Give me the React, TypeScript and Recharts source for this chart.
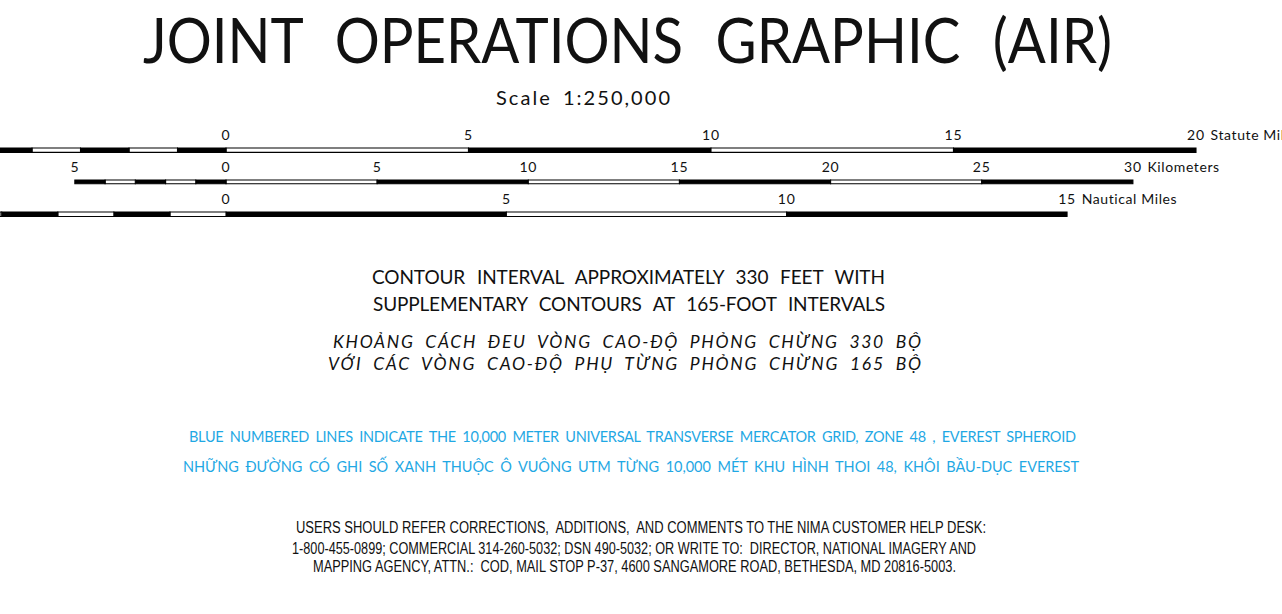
import React from 'react';
import { BarChart, Bar, XAxis, YAxis } from 'recharts';

// scale bar stops and labels, each in its own unit
const STATUTE_TICKS = [0, 5, 10, 15, 20];
const STATUTE_STOPS = [-5, -4, -3, -2, -1, 0, 5, 10, 15, 20];
const KM_TICKS = [-5, 0, 5, 10, 15, 20, 25, 30];
const KM_STOPS = [-5, -4, -3, -2, -1, 0, 5, 10, 15, 20, 25, 30];
const NAUTICAL_TICKS = [0, 5, 10, 15];
const NAUTICAL_STOPS = [-5, -4, -3, -2, -1, 0, 5, 10, 15];
const UNIT_NAMES = ['Statute Miles', 'Kilometers', 'Nautical Miles'];

const TITLE = 'JOINT OPERATIONS GRAPHIC (AIR)';
const SCALE_TEXT = 'Scale 1:250,000';
const CONTOUR_LINES = [
  'CONTOUR INTERVAL APPROXIMATELY 330 FEET WITH',
  'SUPPLEMENTARY CONTOURS AT 165-FOOT INTERVALS',
];
const CONTOUR_LINES_VI = [
  'KHOẢNG CÁCH ĐEU VÒNG CAO-ĐỘ PHỎNG CHỪNG 330 BỘ',
  'VỚI CÁC VÒNG CAO-ĐỘ PHỤ TỪNG PHỎNG CHỪNG 165 BỘ',
];
const GRID_LINES = [
  'BLUE NUMBERED LINES INDICATE THE 10,000 METER UNIVERSAL TRANSVERSE MERCATOR GRID, ZONE 48 , EVEREST SPHEROID',
  'NHỮNG ĐƯỜNG CÓ GHI SỐ XANH THUỘC Ô VUÔNG UTM TỪNG 10,000 MÉT KHU HÌNH THOI 48, KHÔI BẦU-DỤC EVEREST',
];
const HELP_LINES = [
  'USERS SHOULD REFER CORRECTIONS,  ADDITIONS,  AND COMMENTS TO THE NIMA CUSTOMER HELP DESK:',
  '1-800-455-0899; COMMERCIAL 314-260-5032; DSN 490-5032; OR WRITE TO:  DIRECTOR, NATIONAL IMAGERY AND',
  'MAPPING AGENCY, ATTN.:  COD, MAIL STOP P-37, 4600 SANGAMORE ROAD, BETHESDA, MD 20816-5003.',
];

const W = 1282;
const H = 614;
const ZERO_X = 226;
const AXIS_H = 24;
const PLOT_H = 8;
const GEO = 'Lato, "DejaVu Sans", sans-serif';
const NARROW = '"Liberation Sans Narrow", "Liberation Sans", Arial, sans-serif';
const INK = '#111';
const BLUE = '#1fa8e4';

const ROWS = [
  { ticks: STATUTE_TICKS, stops: STATUTE_STOPS, unit: UNIT_NAMES[0], pxPerUnit: 48.5, centerY: 149.6, thick: 5.5, zeroRightBlack: false },
  { ticks: KM_TICKS, stops: KM_STOPS, unit: UNIT_NAMES[1], pxPerUnit: 30.23, centerY: 181.7, thick: 4.8, zeroRightBlack: false },
  { ticks: NAUTICAL_TICKS, stops: NAUTICAL_STOPS, unit: UNIT_NAMES[2], pxPerUnit: 56.07, centerY: 213.8, thick: 5.6, zeroRightBlack: true },
];

function ScaleTick(props: any) {
  const { x, y, payload, last, unit } = props;
  const v = payload.value;
  const label = String(Math.abs(v));
  return (
    <g>
      <text x={x} y={y + 1} textAnchor="middle" fontFamily={GEO} fontSize={14} letterSpacing={0.8} fill={INK}>
        {label}
      </text>
      {v === last && (
        <text x={x + label.length * 4.8 + 5} y={y + 1} textAnchor="start" fontFamily={GEO} fontSize={14} letterSpacing={0.6} fill={INK}>
          {unit}
        </text>
      )}
    </g>
  );
}

function ScaleRow({ ticks, stops, unit, pxPerUnit, centerY, thick, zeroRightBlack }: any) {
  const segments = stops.slice(0, -1).map((a: number, i: number) => ({ key: `s${i}`, a, b: stops[i + 1] }));
  const right = segments.filter((s: any) => s.a >= 0).sort((p: any, q: any) => p.a - q.a);
  const left = segments.filter((s: any) => s.b <= 0).sort((p: any, q: any) => q.b - p.b);
  const row: Record<string, any> = { name: unit };
  right.forEach((s: any) => (row[s.key] = s.b - s.a));
  left.forEach((s: any) => (row[s.key] = s.a - s.b));
  // segments alternate black / white outward from the zero mark
  const series = [
    ...right.map((s: any, j: number) => ({ key: s.key, black: (j % 2 === 0) === zeroRightBlack })),
    ...left.map((s: any, j: number) => ({ key: s.key, black: (j % 2 === 0) !== zeroRightBlack })),
  ];
  const domain = [-ZERO_X / pxPerUnit, (W - ZERO_X) / pxPerUnit];
  const last = ticks[ticks.length - 1];
  const stroke = 1.1;

  return (
    <div style={{ position: 'absolute', left: 0, top: centerY - AXIS_H - PLOT_H / 2 }}>
      <BarChart
        layout="vertical"
        width={W}
        height={AXIS_H + PLOT_H}
        data={[row]}
        margin={{ top: 0, right: 0, bottom: 0, left: 0 }}
        stackOffset="sign"
        barCategoryGap={0}
      >
        <XAxis
          type="number"
          orientation="top"
          height={AXIS_H}
          domain={domain}
          allowDataOverflow
          ticks={ticks}
          interval={0}
          axisLine={false}
          tickLine={false}
          tickSize={5}
          tickMargin={2}
          tick={(p: any) => <ScaleTick {...p} last={last} unit={unit} />}
        />
        <YAxis type="category" dataKey="name" hide />
        {series.map((s) => (
          <Bar
            key={s.key}
            dataKey={s.key}
            stackId="bar"
            barSize={thick - stroke}
            fill={s.black ? '#000' : '#fff'}
            stroke="#000"
            strokeWidth={stroke}
            isAnimationActive={false}
          />
        ))}
      </BarChart>
    </div>
  );
}

function Line({ x, y, len, size, family = GEO, italic = false, words = 0, squeeze = false, color = INK, children }: any) {
  return (
    <text
      x={x}
      y={y}
      fontFamily={family}
      fontSize={size}
      fontStyle={italic ? 'italic' : 'normal'}
      textLength={len}
      lengthAdjust={squeeze ? 'spacingAndGlyphs' : 'spacing'}
      fill={color}
      style={{ wordSpacing: words, whiteSpace: 'pre' }}
    >
      {children}
    </text>
  );
}

export default function App() {
  return (
    <div style={{ position: 'absolute', left: 0, top: 0, width: W, height: H, background: '#fff', overflow: 'hidden' }}>
      <svg width={W} height={H} style={{ position: 'absolute', left: 0, top: 0 }}>
        <Line x={143} y={62.5} len={969} size={62} words={20} squeeze>{TITLE}</Line>
        <Line x={496} y={105} len={174} size={20} words={4}>{SCALE_TEXT}</Line>
        <Line x={372} y={284} len={513} size={19} words={7}>{CONTOUR_LINES[0]}</Line>
        <Line x={373} y={311} len={512} size={19} words={7}>{CONTOUR_LINES[1]}</Line>
        <Line x={333} y={348} len={588} size={17.5} italic words={5}>{CONTOUR_LINES_VI[0]}</Line>
        <Line x={328} y={370} len={593} size={17.5} italic words={5}>{CONTOUR_LINES_VI[1]}</Line>
        <Line x={189} y={442} len={887} size={14.5} words={3} color={BLUE}>{GRID_LINES[0]}</Line>
        <Line x={183} y={472} len={896} size={14.5} words={3} color={BLUE}>{GRID_LINES[1]}</Line>
        <Line x={296} y={533} len={690} size={16} family={NARROW} squeeze>{HELP_LINES[0]}</Line>
        <Line x={292} y={554} len={684} size={16} family={NARROW} squeeze>{HELP_LINES[1]}</Line>
        <Line x={313} y={572} len={643} size={16} family={NARROW} squeeze>{HELP_LINES[2]}</Line>
      </svg>
      {ROWS.map((r) => (
        <ScaleRow key={r.unit} {...r} />
      ))}
    </div>
  );
}
